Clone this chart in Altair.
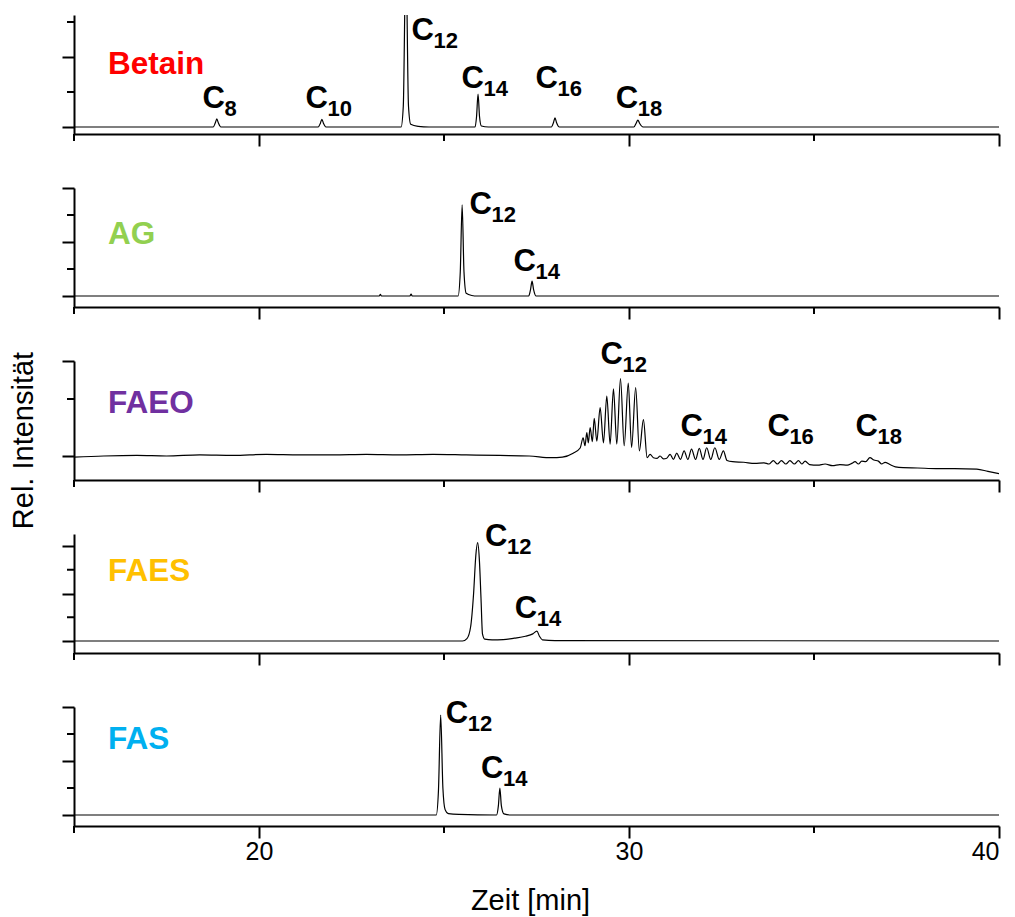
import altair as alt
import pandas as pd

FONT = "Liberation Sans"
T_MIN, T_MAX = 15, 40
PANEL_W, PANEL_H = 925, 119

# ---- chromatogram traces: retention time [min] / relative intensity ----
betain_t = [15.0, 18.76, 18.82, 18.86, 18.90, 18.97, 21.60, 21.66, 21.70, 21.74, 21.81,
            23.84, 23.90, 23.97, 24.04, 24.10, 24.30, 24.60, 25.84, 25.88, 25.92, 25.96,
            26.01, 26.20, 27.90, 27.96, 28.00, 28.04, 28.12, 30.13, 30.19, 30.24, 30.29,
            30.38, 40.0]
betain_i = [0, 0, 0.12, 0.23, 0.12, 0, 0, 0.11, 0.22, 0.11, 0,
            0, 0.6, 5.0, 0.6, 0.08, 0.02, 0, 0, 0.3, 0.94, 0.3,
            0.03, 0, 0, 0.13, 0.26, 0.13, 0, 0, 0.1, 0.2, 0.1,
            0, 0]

ag_t = [15.0, 23.25, 23.28, 23.31, 24.08, 24.11, 24.14, 25.38, 25.44, 25.49, 25.54,
        25.60, 25.75, 25.90, 27.29, 27.34, 27.38, 27.42, 27.49, 40.0]
ag_i = [0, 0, 0.06, 0, 0, 0.07, 0, 0, 0.9, 3.38, 0.9,
        0.1, 0.02, 0, 0, 0.25, 0.55, 0.25, 0, 0]

faeo_t = [15.0, 15.8, 16.7, 17.5, 18.4, 19.3, 20.2, 21.1, 22.0, 22.9, 23.8, 24.7, 25.6,
          26.5, 27.3, 27.9, 28.2, 28.49, 28.68,
          28.76, 28.81, 28.86, 28.90, 28.95, 29.01, 29.06, 29.13, 29.22, 29.31, 29.40,
          29.49, 29.58, 29.67, 29.77, 29.87, 29.98, 30.07, 30.18, 30.28, 30.39, 30.49,
          30.57, 30.66, 30.76, 30.84, 30.93, 31.02,
          31.11, 31.20, 31.29, 31.39, 31.49, 31.59, 31.69, 31.80, 31.90, 32.00, 32.10,
          32.21, 32.32, 32.44, 32.55, 32.65,
          32.80, 33.10, 33.40, 33.65, 33.78, 33.90, 34.01, 34.12, 34.24, 34.35, 34.47,
          34.58, 34.67, 34.76, 34.88, 35.10, 35.30, 35.50, 35.70, 35.90, 36.02, 36.11,
          36.20, 36.29, 36.40, 36.51, 36.62, 36.74, 36.83, 36.92, 37.05, 37.20, 37.41,
          37.80, 38.30, 38.80, 39.40, 39.70, 40.0]
faeo_i = [-0.02, 0.0, 0.01, 0.0, 0.02, 0.01, 0.03, 0.02, 0.02, 0.03, 0.02, 0.03, 0.02,
          0.01, 0.0, -0.03, -0.02, 0.05, 0.14,
          0.32, 0.18, 0.41, 0.23, 0.50, 0.25, 0.66, 0.26, 0.85, 0.23, 1.05,
          0.21, 1.18, 0.21, 1.36, 0.18, 1.28, 0.15, 1.20, 0.09, 0.64, -0.03,
          0.03, -0.03, -0.04, 0.0, -0.05, -0.04,
          0.03, -0.06, 0.05, -0.06, 0.09, -0.06, 0.12, -0.06, 0.135, -0.06, 0.145,
          -0.06, 0.145, -0.06, 0.09, -0.08,
          -0.10, -0.11, -0.13, -0.12, -0.14, -0.08, -0.14, -0.08, -0.14, -0.08, -0.14,
          -0.08, -0.14, -0.09, -0.15, -0.16, -0.14, -0.17, -0.15, -0.16, -0.13, -0.10,
          -0.14, -0.09, -0.10, -0.03, -0.07, -0.09, -0.14, -0.11, -0.15, -0.19, -0.205,
          -0.21, -0.22, -0.22, -0.23, -0.27, -0.31]

faes_t = [15.0, 25.50, 25.62, 25.72, 25.80, 25.86, 25.91, 25.96, 26.00, 26.04, 26.10,
          26.30, 26.60, 26.90, 27.20, 27.40, 27.51, 27.58, 27.66, 28.0, 40.0]
faes_i = [0, 0, 0.1, 0.6, 2.0, 3.6, 4.14, 3.3, 1.8, 0.3, 0.08,
          0.05, 0.06, 0.12, 0.2, 0.3, 0.42, 0.2, 0.05, 0.02, 0]

fas_t = [15.0, 24.79, 24.85, 24.91, 24.97, 25.03, 25.12, 25.40, 26.42, 26.47, 26.51,
         26.55, 26.62, 26.80, 40.0]
fas_i = [0, 0, 0.9, 3.70, 1.0, 0.2, 0.05, 0.02, 0, 0.35, 1.0,
         0.35, 0.04, 0, 0]

# ---- peak labels: chain length, label anchor time and height ----
betain_lab = ["8", "10", "12", "14", "16", "18"]
betain_lab_t = [18.47, 21.26, 24.12, 25.47, 27.47, 29.64]
betain_lab_y = [0.543, 0.543, 2.486, 1.114, 1.114, 0.543]

ag_lab = ["12", "14"]
ag_lab_t = [25.69, 26.88]
ag_lab_y = [3.05, 0.917]

faeo_lab = ["12", "14", "16", "18"]
faeo_lab_t = [29.23, 31.39, 33.74, 36.12]
faeo_lab_y = [1.614, 0.351, 0.351, 0.351]

faes_lab = ["12", "14"]
faes_lab_t = [26.11, 26.91]
faes_lab_y = [4.0, 0.98]

fas_lab = ["12", "14"]
fas_lab_t = [25.05, 26.0]
fas_lab_y = [3.41, 1.37]

# ---- panel names, colours and axes ----
panel_names = ["Betain", "AG", "FAEO", "FAES", "FAS"]
panel_colors = ["#FF0000", "#92D050", "#7030A0", "#FFC000", "#00B0F0"]
name_t = 15.92
name_y = [1.51, 1.93, 0.75, 2.53, 2.44]

y_domains = [[-0.2, 3.2], [-0.407, 4.0], [-0.421, 1.667], [-0.505, 4.505], [-0.407, 4.0]]
y_major = [[0, 2], [0, 2, 4], [0, 1.667], [0, 2, 4], [0, 2, 4]]
y_minor = [[1, 3], [1, 3], [1], [1, 3], [1, 3]]
x_major = [20, 30, 40]
x_minor = [15, 25, 35]

traces = [(betain_t, betain_i), (ag_t, ag_i), (faeo_t, faeo_i), (faes_t, faes_i), (fas_t, fas_i)]
labels = [(betain_lab, betain_lab_t, betain_lab_y), (ag_lab, ag_lab_t, ag_lab_y),
          (faeo_lab, faeo_lab_t, faeo_lab_y), (faes_lab, faes_lab_t, faes_lab_y),
          (fas_lab, fas_lab_t, fas_lab_y)]


def make_panel(k):
    last = k == len(panel_names) - 1
    x_axis = dict(values=x_major, tickSize=12, tickWidth=2, domainWidth=2, grid=False,
                  domainColor="black", tickColor="black", labels=last, title=None)
    if last:
        x_axis.update(labelFont=FONT, labelFontSize=25, labelColor="black", labelPadding=1,
                      title="Zeit [min]", titleFont=FONT, titleFontSize=29,
                      titleFontWeight="normal", titleColor="black", titleX=456, titleY=83,
                      titleBaseline="alphabetic")
    y_axis = dict(values=y_major[k], tickSize=12, tickWidth=2, domainWidth=2, grid=False,
                  domainColor="black", tickColor="black", labels=False, title=None)
    if k == 2:
        y_axis.update(title="Rel. Intensität", titleFont=FONT, titleFontSize=29,
                      titleFontWeight="normal", titleColor="black", titleX=-42, titleY=79,
                      titleBaseline="alphabetic")

    X = alt.X("t:Q", scale=alt.Scale(domain=[T_MIN, T_MAX], nice=False, zero=False),
              axis=alt.Axis(**x_axis))
    Y = alt.Y("y:Q", scale=alt.Scale(domain=y_domains[k], nice=False, zero=False),
              axis=alt.Axis(**y_axis))

    t, inten = traces[k]
    trace = alt.Chart(pd.DataFrame({"t": t, "y": inten})).mark_line(
        color="black", strokeWidth=1.2, interpolate="monotone", clip=True
    ).encode(x=X, y=Y)

    y_min_ticks = alt.Chart(pd.DataFrame({"y": y_minor[k]})).mark_rule(
        color="black", strokeWidth=2
    ).encode(y=Y, x=alt.value(-7), x2=alt.value(0))

    x_min_ticks = alt.Chart(pd.DataFrame({"t": x_minor})).mark_rule(
        color="black", strokeWidth=2
    ).encode(x=X, y=alt.value(PANEL_H), y2=alt.value(PANEL_H + 7))

    name = alt.Chart(pd.DataFrame({"t": [name_t], "y": [name_y[k]],
                                   "label": [panel_names[k]]})).mark_text(
        align="left", baseline="alphabetic", font=FONT, fontSize=31.5, fontWeight="bold",
        color=panel_colors[k]
    ).encode(x=X, y=Y, text="label:N")

    lab, lab_t, lab_y = labels[k]
    lab_df = pd.DataFrame({"t": lab_t, "y": lab_y, "label": lab})
    c_text = alt.Chart(lab_df).mark_text(
        align="left", baseline="alphabetic", font=FONT, fontSize=31, fontWeight="bold",
        color="black", text="C"
    ).encode(x=X, y=Y)
    sub_text = alt.Chart(lab_df).mark_text(
        align="left", baseline="alphabetic", font=FONT, fontSize=22, fontWeight="bold",
        color="black", dx=22, dy=8
    ).encode(x=X, y=Y, text="label:N")

    return alt.layer(trace, y_min_ticks, x_min_ticks, name, c_text, sub_text).properties(
        width=PANEL_W, height=PANEL_H
    )


chart = alt.vconcat(*[make_panel(k) for k in range(len(panel_names))],
                    spacing=54, bounds="flush").properties(
    padding={"left": 9, "top": 14, "right": 5, "bottom": 5}
).configure_view(stroke=None)

chart.save("out.html", embed_options={"renderer": "svg", "actions": False})
